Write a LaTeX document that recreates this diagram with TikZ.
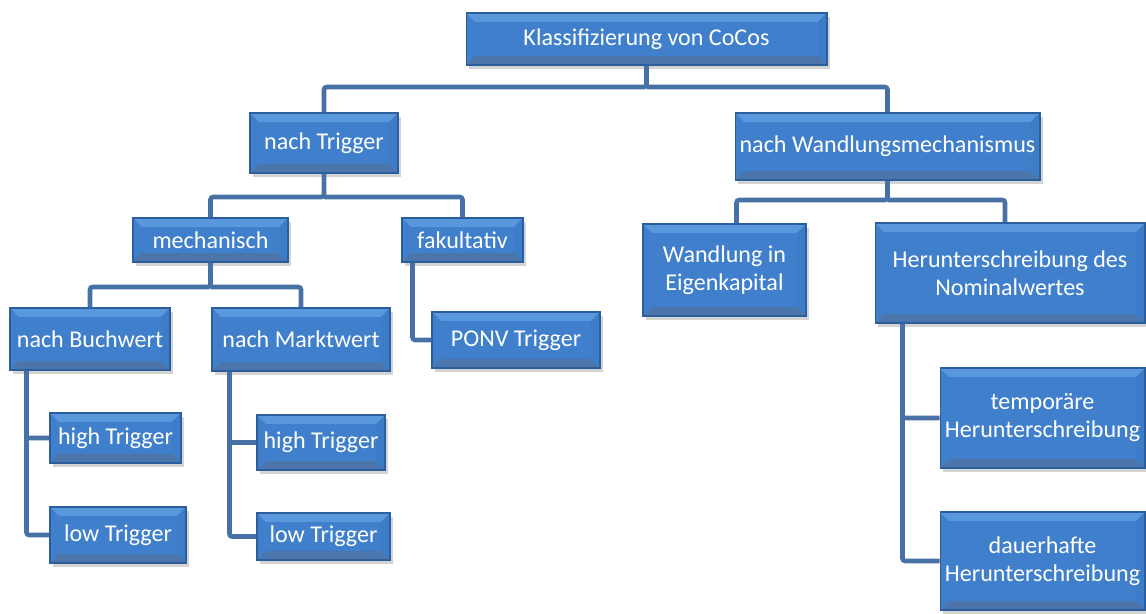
\documentclass[tikz,border=0pt]{standalone}
\usepackage{fontspec}
\setmainfont{Carlito}
\usetikzlibrary{calc,shadows}
\definecolor{boxblue}{HTML}{3F7FCC}
\definecolor{boxlight}{HTML}{5A98DE}
\definecolor{boxdark}{HTML}{2C5D9C}
\definecolor{linkblue}{HTML}{4670A6}
\begin{document}
\begin{tikzpicture}[x=0.02cm,y=-0.02cm,
    box/.style={draw=boxdark, line width=0.6pt, fill=boxblue, text=white, align=center,
      inner sep=2pt, font=\fontsize{13.7}{16}\selectfont,
      drop shadow={opacity=0.35, shadow xshift=1.5pt, shadow yshift=-2pt},
      path picture={
        \fill[boxlight] (path picture bounding box.north west) -- (path picture bounding box.north east)
          -- ([xshift=-5pt,yshift=-5pt]path picture bounding box.north east)
          -- ([xshift=5pt,yshift=-5pt]path picture bounding box.north west) -- cycle;
        \fill[boxdark!85] (path picture bounding box.south west) -- (path picture bounding box.south east)
          -- ([xshift=-5pt,yshift=5pt]path picture bounding box.south east)
          -- ([xshift=5pt,yshift=5pt]path picture bounding box.south west) -- cycle;
        \fill[boxblue!90!boxdark] (path picture bounding box.north east) -- (path picture bounding box.south east)
          -- ([xshift=-5pt,yshift=5pt]path picture bounding box.south east)
          -- ([xshift=-5pt,yshift=-5pt]path picture bounding box.north east) -- cycle;
      }},
    link/.style={draw=linkblue, line width=2.6pt, rounded corners=1.5pt}]
  \useasboundingbox (0,0) rectangle (1146,613);

  % top level
  \node[box, minimum width=7.22cm, minimum height=1.04cm] (klass) at (646.5,39) {Klassifizierung von CoCos};
  \node[box, minimum width=2.96cm, minimum height=1.2cm] (trig) at (324,143) {nach Trigger};
  \node[box, minimum width=6.1cm, minimum height=1.34cm] (wand) at (887.5,146.5) {nach Wandlungsmechanismus};

  % trigger branch
  \node[box, minimum width=3.1cm, minimum height=0.88cm] (mech) at (210.5,240) {mechanisch};
  \node[box, minimum width=2.42cm, minimum height=0.88cm] (fak) at (462.5,240) {fakultativ};
  \node[box, minimum width=3.2cm, minimum height=1.24cm] (buch) at (90,339) {nach Buchwert};
  \node[box, minimum width=3.56cm, minimum height=1.26cm] (markt) at (301,339.5) {nach Marktwert};
  \node[box, minimum width=3.36cm, minimum height=1.12cm] (ponv) at (516,340) {PONV Trigger};
  \node[box, minimum width=2.62cm, minimum height=1.0cm] (bhigh) at (115.5,438) {high Trigger};
  \node[box, minimum width=2.72cm, minimum height=1.12cm] (blow) at (118,535) {low Trigger};
  \node[box, minimum width=2.56cm, minimum height=1.1cm] (mhigh) at (321,442.5) {high Trigger};
  \node[box, minimum width=2.66cm, minimum height=0.94cm] (mlow) at (323.5,536.5) {low Trigger};

  % conversion branch
  \node[box, minimum width=3.26cm, minimum height=1.84cm] (eigen) at (724.5,270) {Wandlung in\\Eigenkapital};
  \node[box, minimum width=5.4cm, minimum height=2.0cm] (herab) at (1010,273) {Herunterschreibung des\\Nominalwertes};
  \node[box, minimum width=4.1cm, minimum height=2.0cm] (temp) at (1042.5,418) {temporäre\\Herunterschreibung};
  \node[box, minimum width=4.1cm, minimum height=1.96cm] (dauer) at (1042.5,561) {dauerhafte\\Herunterschreibung};

  % connectors
  \coordinate (bus1) at (646.5,87);
  \coordinate (bus2) at (324,197);
  \coordinate (bus3) at (210.5,287);
  \coordinate (bus4) at (887.5,200);
  \draw[link] (klass.south) -- (bus1) -| (trig.north);
  \draw[link] (bus1) -| (wand.north);
  \draw[link] (trig.south) -- (bus2) -| (mech.north);
  \draw[link] (bus2) -| (fak.north);
  \draw[link] (mech.south) -- (bus3) -| (buch.north);
  \draw[link] (bus3) -| (markt.north);
  \draw[link] ($(fak.south west)+(11,0)$) |- (ponv.west);
  \draw[link] ($(buch.south west)+(17,0)$) |- (bhigh.west);
  \draw[link] ($(buch.south west)+(17,0)$) |- (blow.west);
  \draw[link] ($(markt.south west)+(18,0)$) |- (mhigh.west);
  \draw[link] ($(markt.south west)+(18,0)$) |- (mlow.west);
  \draw[link] (wand.south) -- (bus4) -| ($(eigen.north)+(12,0)$);
  \draw[link] (bus4) -| ($(herab.north)+(-5,0)$);
  \draw[link] ($(herab.south west)+(28,0)$) |- (temp.west);
  \draw[link] ($(herab.south west)+(28,0)$) |- (dauer.west);
\end{tikzpicture}
\end{document}
